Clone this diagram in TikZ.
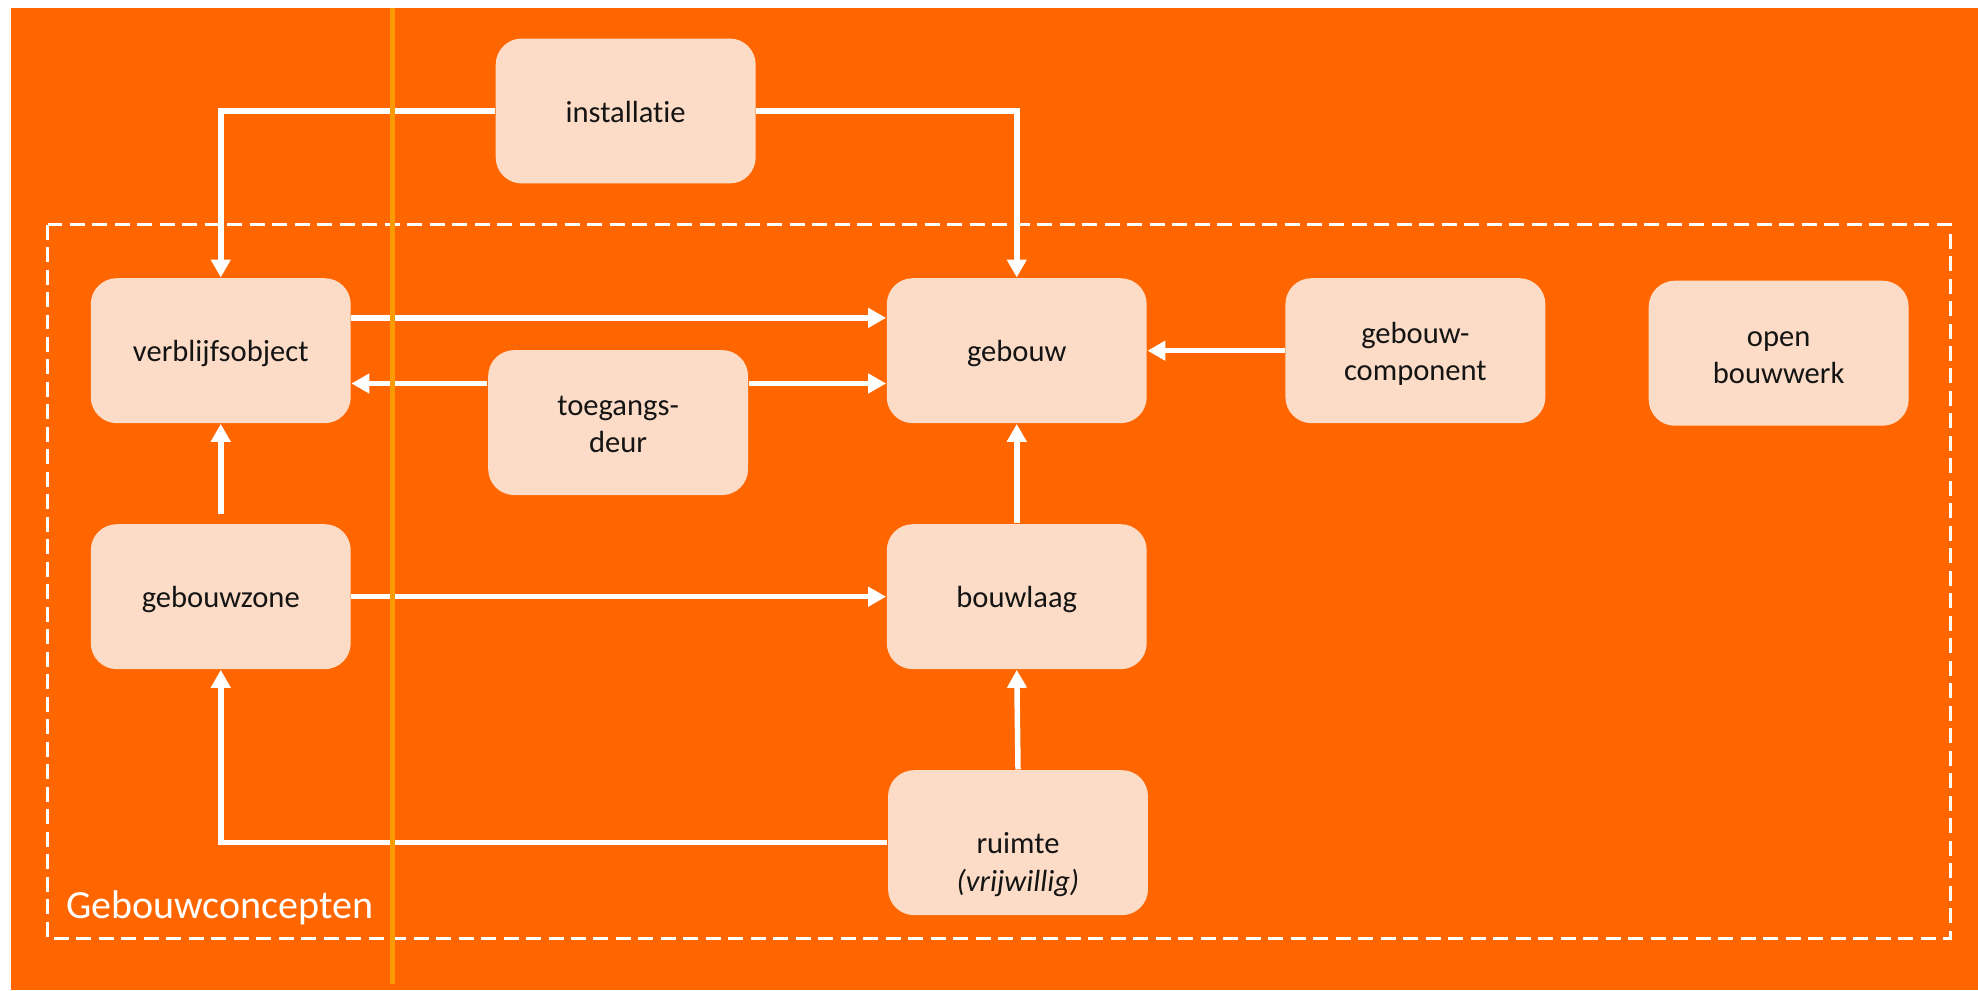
\documentclass[tikz,border=0pt]{standalone}
\usepackage{fontspec}
\setmainfont{Carlito}[Ligatures={NoCommon,NoRare}]
\usetikzlibrary{arrows.meta}
\definecolor{bgorange}{HTML}{FF6600}
\definecolor{peach}{HTML}{FCDCC6}
\definecolor{amber}{HTML}{FF9A00}
\definecolor{txt}{HTML}{141414}
\newcommand{\boxstrut}{\rule[-1.2pt]{0pt}{9.0pt}}
\tikzset{
  concept/.style={rectangle, rounded corners=0.26cm, fill=peach, draw=none,
    minimum width=2.6cm, minimum height=1.45cm, inner sep=0pt, align=center,
    text=txt, font=\fontsize{8.7}{10.7}\selectfont},
  link/.style={draw=white, line width=1.56pt,
    -{Triangle[length=0.18cm,width=0.19cm]}},
  groupbox/.style={draw=white, line width=0.85pt, dash pattern=on 0.15cm off 0.075cm},
  grouplabel/.style={text=white, font=\fontsize{11.4}{13}\selectfont, inner sep=0pt}
}
\begin{document}
\begin{tikzpicture}[x=0.012615cm, y=-0.012615cm]
\useasboundingbox (0,0) rectangle (1568,785);
\fill[bgorange] (9,6) rectangle (1568,785);
\draw[groupbox] (38,178) rectangle (1546,744);
\node[grouplabel, anchor=base west] (lbl) at (52,728) {Gebouwconcepten};

\node[concept] (inst) at (496,88)  {\boxstrut installatie};
\node[concept] (vo)   at (175,278) {\boxstrut verblijfsobject};
\node[concept] (geb)  at (806,278) {\boxstrut gebouw};
\node[concept] (gc)   at (1122,278) {\boxstrut gebouw-\\component\boxstrut};
\node[concept] (ob)   at (1410,280) {\boxstrut open\\bouwwerk\boxstrut};
\node[concept] (td)   at (490,335) {\boxstrut toegangs-\\deur\boxstrut};
\node[concept] (gz)   at (175,473) {\boxstrut gebouwzone};
\node[concept] (bl)   at (806,473) {\boxstrut bouwlaag};
\node[concept] (ru)   at (807,668) {\boxstrut\\ruimte\\\textit{(vrijwillig)}\boxstrut};

\draw[link] (inst.west) -| (vo.north);
\draw[link] (inst.east) -| (geb.north);
\draw[link] (vo.east |- 0,252) -- (geb.west |- 0,252);
\draw[link] (td.west |- 0,304) -- (vo.east |- 0,304);
\draw[link] (td.east |- 0,304) -- (geb.west |- 0,304);
\draw[link] (gc.west) -- (geb.east);
\draw[link, shorten <=0.09cm] (gz.north) -- (vo.south);
\draw[link] (gz.east) -- (bl.west);
\draw[link] (bl.north) -- (geb.south);
\draw[link] (ru.north) -- (bl.south);
\draw[link] (ru.west) -| (gz.south);

\draw[amber, line width=1.3pt] (311,6) -- (311,780);
\end{tikzpicture}
\end{document}
